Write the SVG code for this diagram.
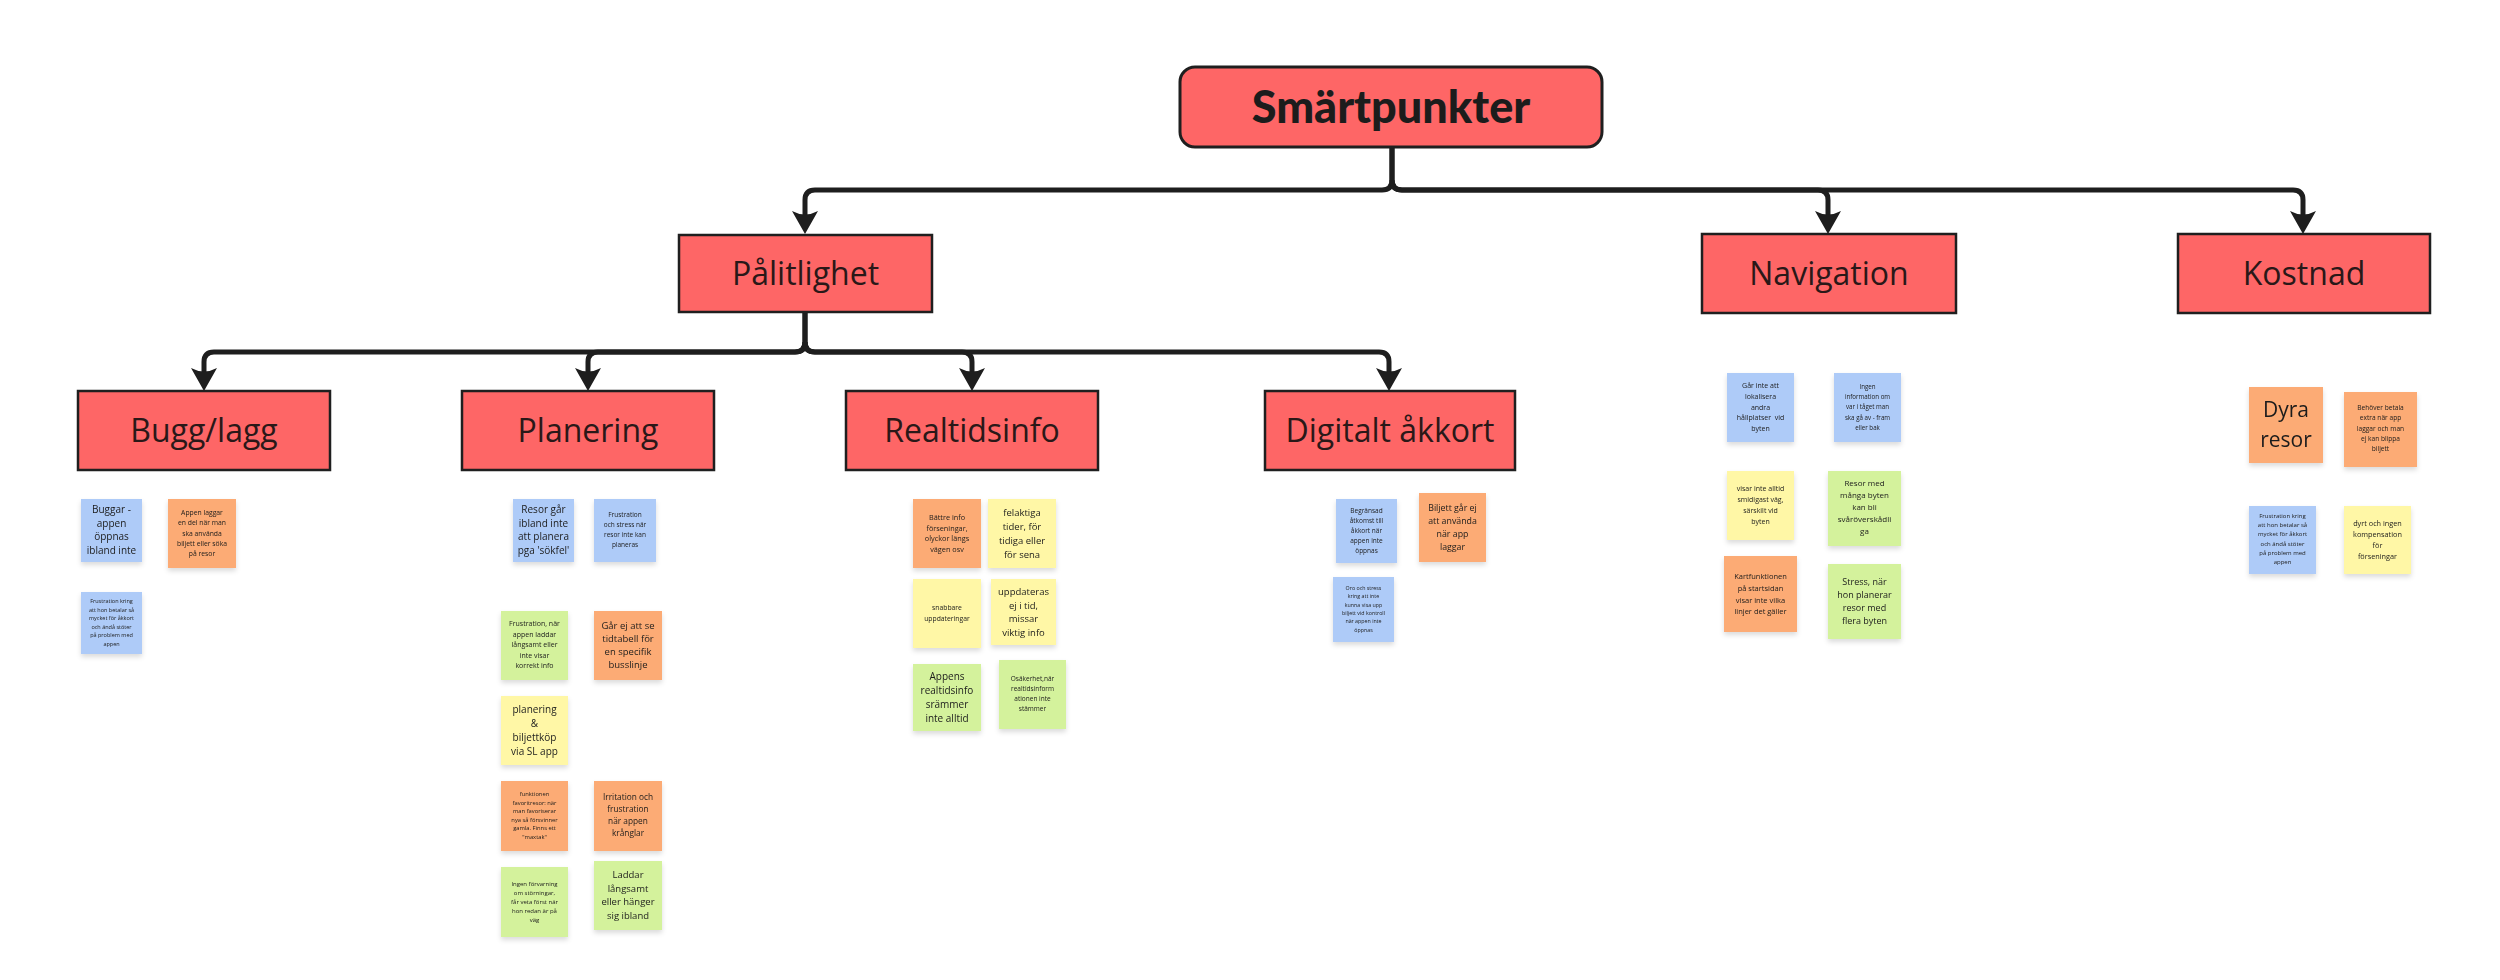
<svg xmlns="http://www.w3.org/2000/svg" width="2500" height="980" viewBox="0 0 2500 980">
<defs>
<style>
.cat{fill:#fe6666;stroke:#1f1f1f;stroke-width:2.5}
.ct{font-family:"Open Sans","Noto Sans",sans-serif;font-size:32px;fill:#2a1818;text-anchor:middle}
.ln{fill:none;stroke:#1e1e1e;stroke-width:5;stroke-linecap:butt;stroke-linejoin:round}
.ah{fill:#1e1e1e}
.n{filter:url(#sh)}
.b{fill:#aecbf8}
.o{fill:#fcab74}
.y{fill:#fff7a6}
.g{fill:#d4f29c}
.t{font-family:"Open Sans","Noto Sans",sans-serif;fill:#1c1c1c;text-anchor:middle}
</style>
<filter id="sh" x="-20%" y="-20%" width="140%" height="150%">
<feDropShadow dx="0" dy="3" stdDeviation="2.5" flood-color="#000" flood-opacity="0.14"/>
</filter>
<path id="arr" d="M0,0 L-13,-23 Q0,-16 13,-23 Z"/>
</defs>
<rect width="2500" height="980" fill="#ffffff"/>

<g id="connectors">
<path class="ln" d="M1392,147 V180 Q1392,190 1382,190 H815 Q805,190 805,200 V215"/>
<path class="ln" d="M1392,147 V180 Q1392,190 1402,190 H1818 Q1828,190 1828,200 V215"/>
<path class="ln" d="M1392,180 Q1392,190 1402,190 H2293 Q2303,190 2303,200 V215"/>
<use href="#arr" class="ah" x="805" y="234"/>
<use href="#arr" class="ah" x="1828" y="234"/>
<use href="#arr" class="ah" x="2303" y="234"/>
<path class="ln" d="M805,313 V342 Q805,352 795,352 H214 Q204,352 204,362 V373"/>
<path class="ln" d="M805,342 Q805,352 795,352 H598 Q588,352 588,362 V373"/>
<path class="ln" d="M805,313 V342 Q805,352 815,352 H962 Q972,352 972,362 V373"/>
<path class="ln" d="M805,342 Q805,352 815,352 H1379 Q1389,352 1389,362 V373"/>
<use href="#arr" class="ah" x="204" y="391"/>
<use href="#arr" class="ah" x="588" y="391"/>
<use href="#arr" class="ah" x="972" y="391"/>
<use href="#arr" class="ah" x="1389" y="391"/>
</g>

<g id="root">
<rect x="1180" y="67" width="422" height="80" rx="15" fill="#fe6666" stroke="#1f1f1f" stroke-width="3"/>
<text x="1391" y="123" font-family="Lato,'Open Sans',sans-serif" font-weight="900" font-size="45" fill="#1c1c1c" text-anchor="middle">Smärtpunkter</text>
</g>

<g id="palitlighet"><rect class="cat" x="679" y="235" width="253" height="77"/><text class="ct" x="805.5" y="285">Pålitlighet</text></g>
<g id="navigation"><rect class="cat" x="1702" y="234" width="254" height="79"/><text class="ct" x="1829" y="285">Navigation</text></g>
<g id="kostnad"><rect class="cat" x="2178" y="234" width="252" height="79"/><text class="ct" x="2304" y="285">Kostnad</text></g>
<g id="bugglagg"><rect class="cat" x="78" y="391" width="252" height="79"/><text class="ct" x="204" y="442">Bugg/lagg</text></g>
<g id="planering"><rect class="cat" x="462" y="391" width="252" height="79"/><text class="ct" x="588" y="442">Planering</text></g>
<g id="realtidsinfo"><rect class="cat" x="846" y="391" width="252" height="79"/><text class="ct" x="972" y="442">Realtidsinfo</text></g>
<g id="digitalt"><rect class="cat" x="1265" y="391" width="250" height="79"/><text class="ct" x="1390" y="442">Digitalt åkkort</text></g>

<!-- Bugg/lagg notes -->
<g id="n1" class="n"><rect class="b" x="81" y="499" width="61" height="63"/><text class="t" font-size="10" x="111.5" y="513"><tspan x="111.5">Buggar -</tspan><tspan x="111.5" dy="13.5">appen</tspan><tspan x="111.5" dy="13.5">öppnas</tspan><tspan x="111.5" dy="13.5">ibland inte</tspan></text></g>
<g id="n2" class="n"><rect class="o" x="168" y="499" width="68" height="69"/><text class="t" font-size="6.8" x="202" y="515"><tspan x="202">Appen laggar</tspan><tspan x="202" dy="10.3">en del när man</tspan><tspan x="202" dy="10.3">ska använda</tspan><tspan x="202" dy="10.3">biljett eller söka</tspan><tspan x="202" dy="10.3">på resor</tspan></text></g>
<g id="n3" class="n"><rect class="b" x="81" y="592" width="61" height="62"/><text class="t" font-size="5.5" x="111.5" y="603"><tspan x="111.5">Frustration kring</tspan><tspan x="111.5" dy="8.6">att hon betalar så</tspan><tspan x="111.5" dy="8.6">mycket för åkkort</tspan><tspan x="111.5" dy="8.6">och ändå stöter</tspan><tspan x="111.5" dy="8.6">på problem med</tspan><tspan x="111.5" dy="8.6">appen</tspan></text></g>

<!-- Planering notes -->
<g id="n4" class="n"><rect class="b" x="513" y="499" width="61" height="63"/><text class="t" font-size="10" x="543.5" y="513"><tspan x="543.5">Resor går</tspan><tspan x="543.5" dy="13.5">ibland inte</tspan><tspan x="543.5" dy="13.5">att planera</tspan><tspan x="543.5" dy="13.5">pga 'sökfel'</tspan></text></g>
<g id="n5" class="n"><rect class="b" x="594" y="499" width="62" height="63"/><text class="t" font-size="6.5" x="625" y="517"><tspan x="625">Frustration</tspan><tspan x="625" dy="10">och stress när</tspan><tspan x="625" dy="10">resor inte kan</tspan><tspan x="625" dy="10">planeras</tspan></text></g>
<g id="n6" class="n"><rect class="g" x="501" y="611" width="67" height="69"/><text class="t" font-size="7" x="534.5" y="626"><tspan x="534.5">Frustration, när</tspan><tspan x="534.5" dy="10.5">appen laddar</tspan><tspan x="534.5" dy="10.5">långsamt eller</tspan><tspan x="534.5" dy="10.5">inte visar</tspan><tspan x="534.5" dy="10.5">korrekt info</tspan></text></g>
<g id="n7" class="n"><rect class="o" x="594" y="611" width="68" height="69"/><text class="t" font-size="9.5" x="628" y="629"><tspan x="628">Går ej att se</tspan><tspan x="628" dy="13">tidtabell för</tspan><tspan x="628" dy="13">en specifik</tspan><tspan x="628" dy="13">busslinje</tspan></text></g>
<g id="n8" class="n"><rect class="y" x="501" y="696" width="67" height="69"/><text class="t" font-size="10" x="534.5" y="713"><tspan x="534.5">planering</tspan><tspan x="534.5" dy="14">&amp;</tspan><tspan x="534.5" dy="14">biljettköp</tspan><tspan x="534.5" dy="14">via SL app</tspan></text></g>
<g id="n9" class="n"><rect class="o" x="501" y="781" width="67" height="70"/><text class="t" font-size="5.8" x="534.5" y="796"><tspan x="534.5">funktionen</tspan><tspan x="534.5" dy="8.5">favoritresor: när</tspan><tspan x="534.5" dy="8.5">man favoriserar</tspan><tspan x="534.5" dy="8.5">nya så försvinner</tspan><tspan x="534.5" dy="8.5">gamla. Finns ett</tspan><tspan x="534.5" dy="8.5">"maxtak"</tspan></text></g>
<g id="n10" class="n"><rect class="o" x="594" y="781" width="68" height="70"/><text class="t" font-size="8.3" x="628" y="800"><tspan x="628">Irritation och</tspan><tspan x="628" dy="12">frustration</tspan><tspan x="628" dy="12">när appen</tspan><tspan x="628" dy="12">krånglar</tspan></text></g>
<g id="n11" class="n"><rect class="g" x="501" y="867" width="67" height="70"/><text class="t" font-size="6" x="534.5" y="886"><tspan x="534.5">Ingen förvarning</tspan><tspan x="534.5" dy="9">om störningar,</tspan><tspan x="534.5" dy="9">får veta först när</tspan><tspan x="534.5" dy="9">hon redan är på</tspan><tspan x="534.5" dy="9">väg</tspan></text></g>
<g id="n12" class="n"><rect class="g" x="594" y="861" width="68" height="69"/><text class="t" font-size="9.5" x="628" y="878"><tspan x="628">Laddar</tspan><tspan x="628" dy="13.5">långsamt</tspan><tspan x="628" dy="13.5">eller hänger</tspan><tspan x="628" dy="13.5">sig ibland</tspan></text></g>

<!-- Realtidsinfo notes -->
<g id="n13" class="n"><rect class="o" x="913" y="499" width="68" height="69"/><text class="t" font-size="7.3" x="947" y="520"><tspan x="947">Bättre info</tspan><tspan x="947" dy="10.5">förseningar,</tspan><tspan x="947" dy="10.5">olyckor längs</tspan><tspan x="947" dy="10.5">vägen osv</tspan></text></g>
<g id="n14" class="n"><rect class="y" x="988" y="499" width="68" height="69"/><text class="t" font-size="9.5" x="1022" y="516"><tspan x="1022">felaktiga</tspan><tspan x="1022" dy="14">tider, för</tspan><tspan x="1022" dy="14">tidiga eller</tspan><tspan x="1022" dy="14">för sena</tspan></text></g>
<g id="n15" class="n"><rect class="y" x="913" y="579" width="68" height="69"/><text class="t" font-size="6.8" x="947" y="610"><tspan x="947">snabbare</tspan><tspan x="947" dy="10.5">uppdateringar</tspan></text></g>
<g id="n16" class="n"><rect class="y" x="991" y="579" width="65" height="66"/><text class="t" font-size="9.5" x="1023.5" y="595"><tspan x="1023.5">uppdateras</tspan><tspan x="1023.5" dy="13.5">ej i tid,</tspan><tspan x="1023.5" dy="13.5">missar</tspan><tspan x="1023.5" dy="13.5">viktig info</tspan></text></g>
<g id="n17" class="n"><rect class="g" x="913" y="664" width="68" height="67"/><text class="t" font-size="10" x="947" y="680"><tspan x="947">Appens</tspan><tspan x="947" dy="14">realtidsinfo</tspan><tspan x="947" dy="14">srämmer</tspan><tspan x="947" dy="14">inte alltid</tspan></text></g>
<g id="n18" class="n"><rect class="g" x="999" y="660" width="67" height="69"/><text class="t" font-size="6.5" x="1032.5" y="681"><tspan x="1032.5">Osäkerhet,när</tspan><tspan x="1032.5" dy="10">realtidsinform</tspan><tspan x="1032.5" dy="10">ationen inte</tspan><tspan x="1032.5" dy="10">stämmer</tspan></text></g>

<!-- Digitalt åkkort notes -->
<g id="n19" class="n"><rect class="b" x="1336" y="499" width="61" height="64"/><text class="t" font-size="6.5" x="1366.5" y="513"><tspan x="1366.5">Begränsad</tspan><tspan x="1366.5" dy="10">åtkomst till</tspan><tspan x="1366.5" dy="10">åkkort när</tspan><tspan x="1366.5" dy="10">appen inte</tspan><tspan x="1366.5" dy="10">öppnas</tspan></text></g>
<g id="n20" class="n"><rect class="o" x="1419" y="493" width="67" height="69"/><text class="t" font-size="8.8" x="1452.5" y="511"><tspan x="1452.5">Biljett går ej</tspan><tspan x="1452.5" dy="13">att använda</tspan><tspan x="1452.5" dy="13">när app</tspan><tspan x="1452.5" dy="13">laggar</tspan></text></g>
<g id="n21" class="n"><rect class="b" x="1333" y="577" width="61" height="65"/><text class="t" font-size="5.3" x="1363.5" y="590"><tspan x="1363.5">Oro och stress</tspan><tspan x="1363.5" dy="8.3">kring att inte</tspan><tspan x="1363.5" dy="8.3">kunna visa upp</tspan><tspan x="1363.5" dy="8.3">biljett vid kontroll</tspan><tspan x="1363.5" dy="8.3">när appen inte</tspan><tspan x="1363.5" dy="8.3">öppnas</tspan></text></g>

<!-- Navigation notes -->
<g id="n22" class="n"><rect class="b" x="1727" y="373" width="67" height="69"/><text class="t" font-size="7" x="1760.5" y="388" style="white-space:pre"><tspan x="1760.5">Går inte att</tspan><tspan x="1760.5" dy="10.8">lokalisera</tspan><tspan x="1760.5" dy="10.8">andra</tspan><tspan x="1760.5" dy="10.8">hållplatser  vid</tspan><tspan x="1760.5" dy="10.8">byten</tspan></text></g>
<g id="n23" class="n"><rect class="b" x="1834" y="373" width="67" height="69"/><text class="t" font-size="6.2" x="1867.5" y="389"><tspan x="1867.5">Ingen</tspan><tspan x="1867.5" dy="10.2">information om</tspan><tspan x="1867.5" dy="10.2">var i tåget man</tspan><tspan x="1867.5" dy="10.2">ska gå av - fram</tspan><tspan x="1867.5" dy="10.2">eller bak</tspan></text></g>
<g id="n24" class="n"><rect class="y" x="1727" y="471" width="67" height="69"/><text class="t" font-size="7" x="1760.5" y="491"><tspan x="1760.5">visar inte alltid</tspan><tspan x="1760.5" dy="11">smidigast väg,</tspan><tspan x="1760.5" dy="11">särskilt vid</tspan><tspan x="1760.5" dy="11">byten</tspan></text></g>
<g id="n25" class="n"><rect class="g" x="1828" y="471" width="73" height="75"/><text class="t" font-size="8" x="1864.5" y="486"><tspan x="1864.5">Resor med</tspan><tspan x="1864.5" dy="12">många byten</tspan><tspan x="1864.5" dy="12">kan bli</tspan><tspan x="1864.5" dy="12">svåröverskådli</tspan><tspan x="1864.5" dy="12">ga</tspan></text></g>
<g id="n26" class="n"><rect class="o" x="1724" y="556" width="73" height="76"/><text class="t" font-size="7.5" x="1760.5" y="579"><tspan x="1760.5">Kartfunktionen</tspan><tspan x="1760.5" dy="11.8">på startsidan</tspan><tspan x="1760.5" dy="11.8">visar inte vilka</tspan><tspan x="1760.5" dy="11.8">linjer det gäller</tspan></text></g>
<g id="n27" class="n"><rect class="g" x="1828" y="564" width="73" height="75"/><text class="t" font-size="9" x="1864.5" y="585"><tspan x="1864.5">Stress, när</tspan><tspan x="1864.5" dy="13">hon planerar</tspan><tspan x="1864.5" dy="13">resor med</tspan><tspan x="1864.5" dy="13">flera byten</tspan></text></g>

<!-- Kostnad notes -->
<g id="n28" class="n"><rect class="o" x="2249" y="387" width="74" height="76"/><text class="t" font-size="21" x="2286" y="417"><tspan x="2286">Dyra</tspan><tspan x="2286" dy="30">resor</tspan></text></g>
<g id="n29" class="n"><rect class="o" x="2344" y="392" width="73" height="75"/><text class="t" font-size="6.6" x="2380.5" y="410"><tspan x="2380.5">Behöver betala</tspan><tspan x="2380.5" dy="10.3">extra när app</tspan><tspan x="2380.5" dy="10.3">laggar och man</tspan><tspan x="2380.5" dy="10.3">ej kan blippa</tspan><tspan x="2380.5" dy="10.3">biljett</tspan></text></g>
<g id="n30" class="n"><rect class="b" x="2249" y="506" width="67" height="68"/><text class="t" font-size="6" x="2282.5" y="518"><tspan x="2282.5">Frustration kring</tspan><tspan x="2282.5" dy="9.2">att hon betalar så</tspan><tspan x="2282.5" dy="9.2">mycket för åkkort</tspan><tspan x="2282.5" dy="9.2">och ändå stöter</tspan><tspan x="2282.5" dy="9.2">på problem med</tspan><tspan x="2282.5" dy="9.2">appen</tspan></text></g>
<g id="n31" class="n"><rect class="y" x="2344" y="506" width="67" height="68"/><text class="t" font-size="7.3" x="2377.5" y="526"><tspan x="2377.5">dyrt och ingen</tspan><tspan x="2377.5" dy="11">kompensation</tspan><tspan x="2377.5" dy="11">för</tspan><tspan x="2377.5" dy="11">förseningar</tspan></text></g>
</svg>
